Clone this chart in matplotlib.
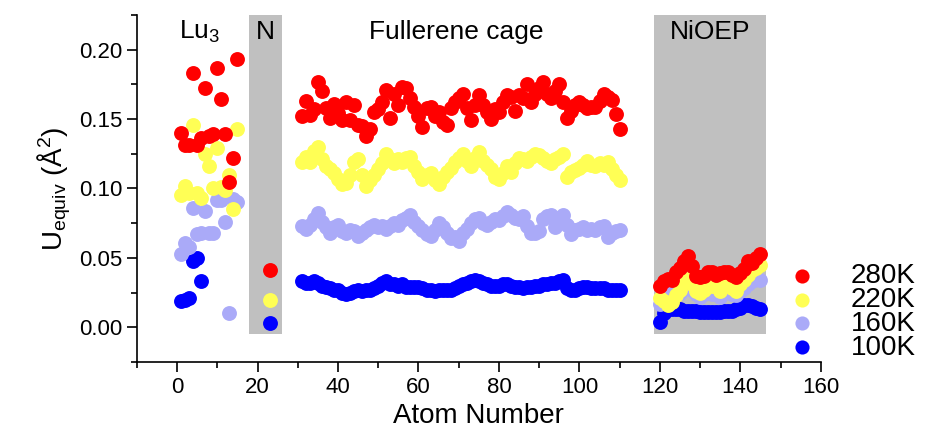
import numpy as np
import matplotlib
matplotlib.use("Agg")
import matplotlib.pyplot as plt
from matplotlib.patches import Rectangle

plt.rcParams['font.family'] = ['Liberation Sans', 'DejaVu Sans']
plt.rcParams['mathtext.fontset'] = 'custom'
plt.rcParams['mathtext.rm'] = 'Liberation Sans'
plt.rcParams['mathtext.it'] = 'Liberation Sans:italic'

# ---- data: atom number -> Uequiv ----
lu_x = list(range(1, 16))
lu_280 = [0.140, 0.131, 0.131, 0.183, 0.131, 0.136, 0.172, 0.1375, 0.139, 0.187,
          0.1645, 0.139, 0.1046, 0.122, 0.193]
lu_220 = [0.095, 0.102, 0.097, 0.146, 0.097, 0.093, 0.125, 0.116, 0.100, 0.129,
          0.101, 0.099, 0.110, 0.085, 0.143]
lu_160 = [0.053, 0.061, 0.058, 0.086, 0.067, 0.068, 0.084, 0.068, 0.068, 0.092,
          0.092, 0.076, 0.010, 0.0925, 0.090]
lu_x100 = [1, 2, 3, 4, 5, 6]
lu_100 = [0.019, 0.020, 0.021, 0.048, 0.050, 0.033]

n_x = [23]
n_280 = [0.041]
n_220 = [0.020]
n_100 = [0.003]

cage_x = list(range(31, 111))
cage_280 = [0.152, 0.163, 0.153, 0.157, 0.177, 0.170, 0.158, 0.151, 0.161, 0.154,
            0.149, 0.162, 0.149, 0.160, 0.146, 0.145, 0.138, 0.143, 0.155, 0.157,
            0.162, 0.171, 0.151, 0.168, 0.160, 0.173, 0.172, 0.165, 0.159, 0.152,
            0.144, 0.158, 0.159, 0.152, 0.155, 0.148, 0.146, 0.158, 0.162, 0.165,
            0.168, 0.158, 0.149, 0.160, 0.167, 0.160, 0.155, 0.150, 0.157, 0.155,
            0.162, 0.167, 0.166, 0.156, 0.167, 0.165, 0.175, 0.162, 0.168, 0.172,
            0.177, 0.168, 0.165, 0.170, 0.175, 0.162, 0.151, 0.156, 0.160, 0.162,
            0.160, 0.158, 0.159, 0.159, 0.163, 0.168, 0.166, 0.164, 0.1535, 0.143]
cage_220 = [0.119, 0.123, 0.119, 0.127, 0.130, 0.121, 0.116, 0.114, 0.111, 0.107,
            0.103, 0.104, 0.110, 0.119, 0.121, 0.110, 0.102, 0.106, 0.110, 0.114,
            0.118, 0.125, 0.121, 0.118, 0.121, 0.119, 0.122, 0.123, 0.116, 0.112,
            0.107, 0.110, 0.111, 0.106, 0.103, 0.108, 0.112, 0.115, 0.119, 0.122,
            0.125, 0.120, 0.116, 0.122, 0.126, 0.120, 0.117, 0.114, 0.108, 0.107,
            0.111, 0.116, 0.112, 0.118, 0.122, 0.121, 0.120, 0.123, 0.125, 0.124,
            0.122, 0.120, 0.118, 0.121, 0.123, 0.125, 0.108, 0.112, 0.113, 0.115,
            0.117, 0.120, 0.117, 0.116, 0.118, 0.117, 0.119, 0.114, 0.110, 0.106]
cage_160 = [0.073, 0.071, 0.074, 0.078, 0.082, 0.076, 0.072, 0.068, 0.072, 0.074,
            0.069, 0.068, 0.070, 0.069, 0.066, 0.068, 0.070, 0.072, 0.074, 0.072,
            0.073, 0.071, 0.073, 0.075, 0.074, 0.077, 0.079, 0.081, 0.076, 0.073,
            0.070, 0.067, 0.066, 0.070, 0.075, 0.072, 0.068, 0.064, 0.065, 0.062,
            0.068, 0.071, 0.075, 0.078, 0.079, 0.075, 0.074, 0.076, 0.078, 0.077,
            0.080, 0.083, 0.081, 0.079, 0.078, 0.080, 0.073, 0.068, 0.068, 0.069,
            0.078, 0.080, 0.081, 0.072, 0.079, 0.081, 0.074, 0.067, 0.070, 0.071,
            0.072, 0.070, 0.071, 0.070, 0.072, 0.073, 0.065, 0.068, 0.069, 0.070]
cage_100 = [0.033, 0.032, 0.032, 0.033, 0.032, 0.030, 0.029, 0.028, 0.027, 0.027,
            0.025, 0.024, 0.025, 0.026, 0.027, 0.026, 0.027, 0.027, 0.028, 0.030,
            0.032, 0.033, 0.031, 0.031, 0.030, 0.031, 0.029, 0.029, 0.029, 0.029,
            0.028, 0.027, 0.027, 0.026, 0.027, 0.027, 0.027, 0.027, 0.028, 0.030,
            0.031, 0.032, 0.033, 0.034, 0.033, 0.032, 0.031, 0.030, 0.030, 0.030,
            0.031, 0.031, 0.030, 0.029, 0.029, 0.028, 0.029, 0.029, 0.030, 0.030,
            0.031, 0.031, 0.032, 0.032, 0.033, 0.034, 0.028, 0.027, 0.027, 0.028,
            0.029, 0.029, 0.028, 0.028, 0.028, 0.028, 0.027, 0.027, 0.027, 0.027]

ni_x = list(range(120, 146))
ni_280 = [0.030, 0.033, 0.035, 0.034, 0.040, 0.043, 0.048, 0.051, 0.044, 0.037,
          0.036, 0.037, 0.040, 0.040, 0.038, 0.039, 0.040, 0.040, 0.038, 0.036,
          0.039, 0.042, 0.048, 0.046, 0.050, 0.053]
ni_220 = [0.021, 0.019, 0.016, 0.018, 0.023, 0.027, 0.033, 0.035, 0.031, 0.026,
          0.025, 0.027, 0.031, 0.030, 0.033, 0.026, 0.031, 0.034, 0.028, 0.026,
          0.031, 0.034, 0.038, 0.041, 0.043, 0.045]
ni_160 = [0.017, 0.022, 0.024, 0.026, 0.027, 0.025, 0.028, 0.029, 0.027, 0.024,
          0.022, 0.024, 0.025, 0.024, 0.026, 0.022, 0.025, 0.027, 0.024, 0.023,
          0.026, 0.028, 0.031, 0.033, 0.035, 0.034]
ni_100 = [0.004, 0.010, 0.013, 0.013, 0.013, 0.013, 0.012, 0.012, 0.012, 0.012,
          0.011, 0.011, 0.011, 0.011, 0.011, 0.011, 0.012, 0.012, 0.012, 0.013,
          0.014, 0.016, 0.016, 0.015, 0.014, 0.013]

x280 = lu_x + n_x + cage_x + ni_x
y280 = lu_280 + n_280 + cage_280 + ni_280
x220 = lu_x + n_x + cage_x + ni_x
y220 = lu_220 + n_220 + cage_220 + ni_220
x160 = lu_x + cage_x + ni_x
y160 = lu_160 + cage_160 + ni_160
x100 = lu_x100 + n_x + cage_x + ni_x
y100 = lu_100 + n_100 + cage_100 + ni_100

fig = plt.figure(figsize=(9.37, 4.38), dpi=100)
ax = fig.add_axes([0.146, 0.1735, 0.73, 0.7925])

# shaded regions
ax.add_patch(Rectangle((18, -0.005), 8, 0.23, color='#c0c0c0', lw=0, zorder=0))
ax.add_patch(Rectangle((118.5, -0.005), 28, 0.23, color='#c0c0c0', lw=0, zorder=0))

ms = 115
ax.scatter(x100, y100, s=ms, color='#0000ff', lw=0, label='100K', zorder=2)
ax.scatter(x160, y160, s=ms, color='#aaaaf8', lw=0, label='160K', zorder=3)
ax.scatter(x220, y220, s=ms, color='#ffff55', lw=0, label='220K', zorder=4)
ax.scatter(x280, y280, s=ms, color='#ff0000', lw=0, label='280K', zorder=5)

ax.text(5.5, 0.213, 'Lu$_3$', fontsize=19, ha='center', va='center')
ax.text(22, 0.213, 'N', fontsize=19, ha='center', va='center')
ax.text(69.5, 0.213, 'Fullerene cage', fontsize=19, ha='center', va='center')
ax.text(132.5, 0.213, 'NiOEP', fontsize=19, ha='center', va='center')

ax.set_xlim(-10, 160)
ax.set_ylim(-0.025, 0.225)
ax.set_xticks(np.arange(0, 161, 20))
ax.set_xticks(np.arange(-10, 161, 10), minor=True)
ax.set_yticks(np.arange(0, 0.21, 0.05))
ax.set_yticks(np.arange(-0.025, 0.226, 0.025), minor=True)
ax.yaxis.set_major_formatter(matplotlib.ticker.FormatStrFormatter('%.2f'))
ax.tick_params(labelsize=16, width=1.2, length=7, direction='out')
ax.tick_params(which='minor', width=1.2, length=4)
for s in ['top', 'right']:
    ax.spines[s].set_visible(False)
for s in ['left', 'bottom']:
    ax.spines[s].set_linewidth(1.2)

ax.set_xlabel('Atom Number', fontsize=20)
ax.set_ylabel('U$_{\\mathrm{equiv}}$ (Å$^2$)', fontsize=20)

h, l = ax.get_legend_handles_labels()
fig.legend(h[::-1], l[::-1], loc='center left', bbox_to_anchor=(0.80, 0.288),
           frameon=False, fontsize=20, handletextpad=0.75, labelspacing=-0.08,
           markerscale=0.95)

fig.savefig('out.png', dpi=100)
